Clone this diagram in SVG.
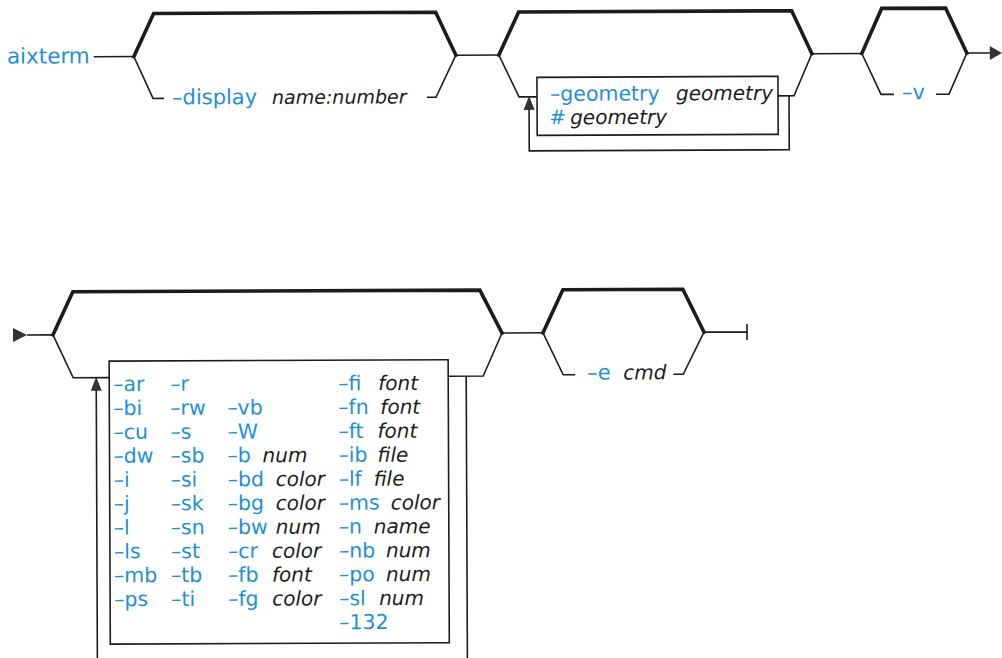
<svg xmlns="http://www.w3.org/2000/svg" width="1002" height="658" viewBox="0 0 1002 658">
  <style>
    .thick { fill: none; stroke: #1c1c1c; stroke-width: 3.6; stroke-linejoin: miter; stroke-linecap: square; }
    .thin { fill: none; stroke: #1c1c1c; stroke-width: 1.6; }
    .head { fill: #333333; }
    .kw { font-family: "DejaVu Sans", "Liberation Sans", sans-serif; font-size: 21px; fill: #1f8fd8; }
    .var { font-family: "DejaVu Sans", "Liberation Sans", sans-serif; font-style: italic; font-size: 20px; fill: #1c1c1c; }
    .list { font-size: 20.5px; }
    .boxed { font-size: 20px; }
  </style>
  <defs>
    <polygon id="arrowUp" class="head" points="-5.5,14 0,0 5.5,14"/>
  </defs>
  <rect width="1002" height="658" fill="#ffffff"/>

  <g transform="rotate(-0.24 501 329)">
    <!-- connectors: main line, loops, start/end marks -->
    <g id="connectors">
      <path class="thin" d="M95,55 H135 M457,55 H500 M813,55 H863 M968,55 H992"/>
      <polygon class="head" points="991,48 1003,55 991,62"/>
      <!-- repeat loop for geometry -->
      <path class="thin" d="M790,97 V151 H530 V108"/>
      <use href="#arrowUp" x="530" y="96"/>
      <!-- second line -->
      <polygon class="head" points="13,326 27,333 13,340"/>
      <path class="thin" d="M27,333 H53 M502,333 H543 M704,333 H747 M747,325 V341"/>
      <!-- repeat loop for option list -->
      <path class="thin" d="M466,376 V662 M96,662 V388"/>
      <use href="#arrowUp" x="96" y="375"/>
    </g>

    <g id="aixterm">
      <text class="kw" x="8" y="61.5" style="font-size:21.5px">aixterm</text>
    </g>

    <g id="display-choice">
      <path class="thick" d="M135,55 L155,12 H437 L457,55"/>
      <path class="thin" d="M135,55 L154,97 H165 M428,97 H437 L457,55"/>
      <text class="kw" x="173" y="103">–display</text>
      <text class="var" x="273" y="103" style="font-size:19px">name:number</text>
    </g>

    <g id="geometry-choice">
      <path class="thick" d="M500,55 L520,12 H793 L813,55"/>
      <path class="thin" d="M500,55 L520,97 H538 M779,97 H795 L813,55"/>
      <rect class="thin" x="538" y="77.5" width="241" height="58"/>
      <text class="kw boxed" x="551" y="101" style="font-size:20.5px">–geometry</text>
      <text class="var boxed" x="677" y="101">geometry</text>
      <text class="kw boxed" x="550" y="124.5">#</text>
      <text class="var boxed" x="571" y="124.5">geometry</text>
    </g>

    <g id="v-choice">
      <path class="thick" d="M863,55 L883,10 H947 L968,55"/>
      <path class="thin" d="M863,55 L882,96 H895 M937,96 H950 L968,55"/>
      <text class="kw" x="903" y="101">–v</text>
    </g>

    <g id="options-choice">
      <path class="thick" d="M53,333 L73,290 H480 L502,333"/>
      <path class="thin" d="M53,333 L73,376 H109 M448,376 H483 L502,333"/>
      <rect class="thin" x="109" y="359.5" width="339" height="283"/>
      <!-- column 1 -->
      <text class="kw list">
        <tspan x="113" y="389.5">–ar</tspan>
        <tspan x="113" y="413.4">–bi</tspan>
        <tspan x="113" y="437.3">–cu</tspan>
        <tspan x="113" y="461.2">–dw</tspan>
        <tspan x="113" y="485.1">–i</tspan>
        <tspan x="113" y="509">–j</tspan>
        <tspan x="113" y="532.9">–l</tspan>
        <tspan x="113" y="556.8">–ls</tspan>
        <tspan x="113" y="580.7">–mb</tspan>
        <tspan x="113" y="604.6">–ps</tspan>
      </text>
      <!-- column 2 -->
      <text class="kw list">
        <tspan x="170" y="389.5">–r</tspan>
        <tspan x="170" y="413.4">–rw</tspan>
        <tspan x="170" y="437.3">–s</tspan>
        <tspan x="170" y="461.2">–sb</tspan>
        <tspan x="170" y="485.1">–si</tspan>
        <tspan x="170" y="509">–sk</tspan>
        <tspan x="170" y="532.9">–sn</tspan>
        <tspan x="170" y="556.8">–st</tspan>
        <tspan x="170" y="580.7">–tb</tspan>
        <tspan x="170" y="604.6">–ti</tspan>
      </text>
      <!-- column 3 -->
      <text class="kw list">
        <tspan x="227" y="413.4">–vb</tspan>
        <tspan x="227" y="437.3">–W</tspan>
        <tspan x="227" y="461.2">–b</tspan>
        <tspan x="227" y="485.1">–bd</tspan>
        <tspan x="227" y="509">–bg</tspan>
        <tspan x="227" y="532.9">–bw</tspan>
        <tspan x="227" y="556.8">–cr</tspan>
        <tspan x="227" y="580.7">–fb</tspan>
        <tspan x="227" y="604.6">–fg</tspan>
      </text>
      <text class="var">
        <tspan x="262" y="461.2">num</tspan>
        <tspan x="275" y="485.1">color</tspan>
        <tspan x="275" y="509">color</tspan>
        <tspan x="275" y="532.9">num</tspan>
        <tspan x="271" y="556.8">color</tspan>
        <tspan x="271" y="580.7">font</tspan>
        <tspan x="271" y="604.6">color</tspan>
      </text>
      <!-- column 4 -->
      <text class="kw list">
        <tspan x="338" y="389.5">–fi</tspan>
        <tspan x="338" y="413.4">–fn</tspan>
        <tspan x="338" y="437.3">–ft</tspan>
        <tspan x="338" y="461.2">–ib</tspan>
        <tspan x="338" y="485.1">–lf</tspan>
        <tspan x="338" y="509">–ms</tspan>
        <tspan x="338" y="532.9">–n</tspan>
        <tspan x="338" y="556.8">–nb</tspan>
        <tspan x="338" y="580.7">–po</tspan>
        <tspan x="338" y="604.6">–sl</tspan>
        <tspan x="338" y="628.5">–132</tspan>
      </text>
      <text class="var">
        <tspan x="378" y="389.5">font</tspan>
        <tspan x="380" y="413.4">font</tspan>
        <tspan x="377" y="437.3">font</tspan>
        <tspan x="377" y="461.2">file</tspan>
        <tspan x="373" y="485.1">file</tspan>
        <tspan x="390" y="509">color</tspan>
        <tspan x="373" y="532.9">name</tspan>
        <tspan x="385" y="556.8">num</tspan>
        <tspan x="385" y="580.7">num</tspan>
        <tspan x="378" y="604.6">num</tspan>
      </text>
    </g>

    <g id="e-choice">
      <path class="thick" d="M543,333 L563,290 H683 L704,333"/>
      <path class="thin" d="M543,333 L563,375 H575 M673,375 H683 L704,333"/>
      <text class="kw" x="587" y="380">–e</text>
      <text class="var" x="623" y="380">cmd</text>
    </g>
  </g>
</svg>
